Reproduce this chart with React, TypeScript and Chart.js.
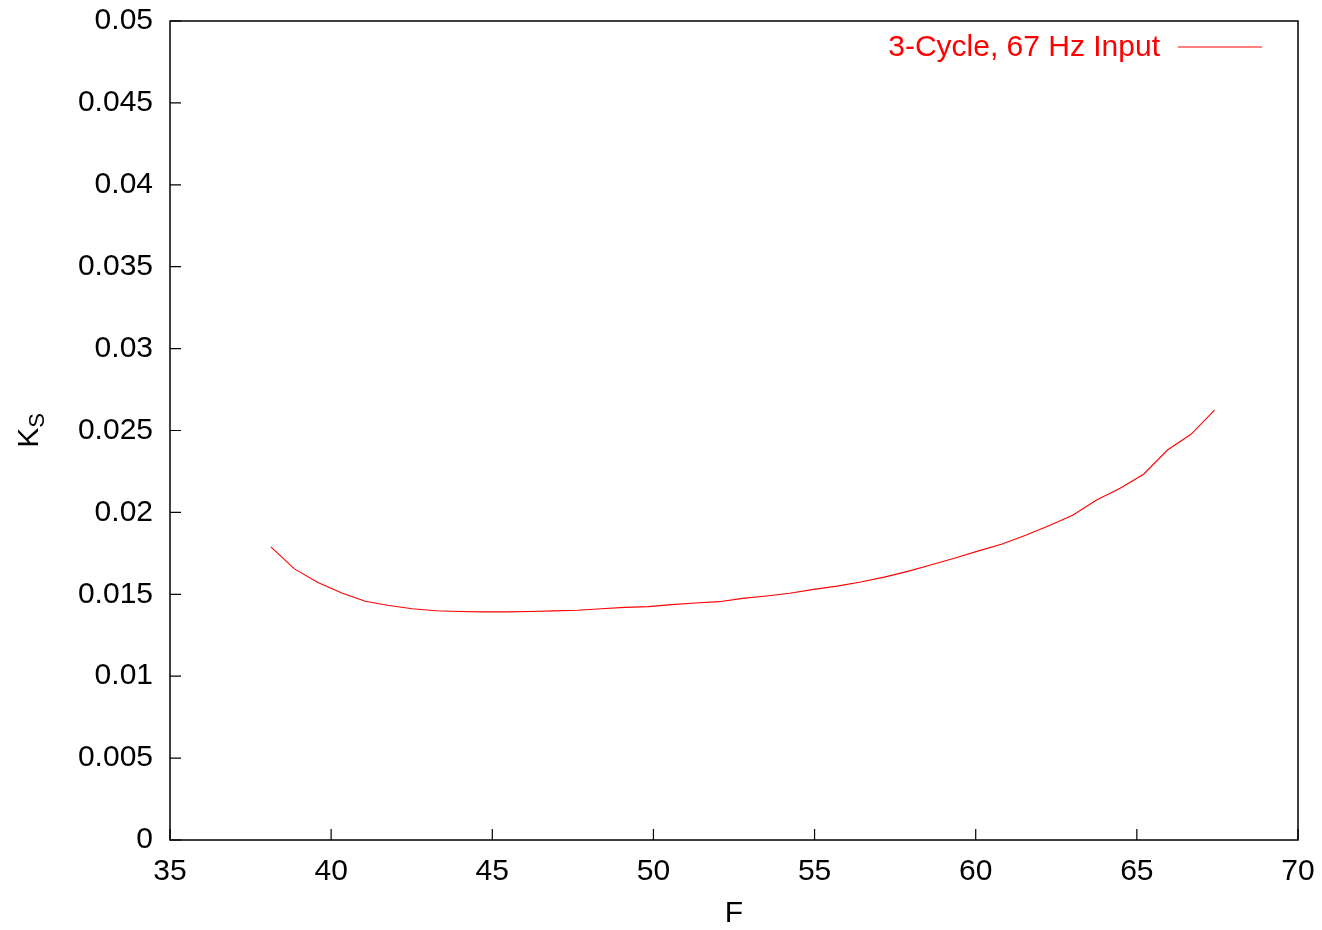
import React, { useEffect, useRef } from "react";
import { Chart, registerables } from "chart.js";

Chart.register(...registerables);

const fValues = [
  38.13, 38.86, 39.59, 40.33, 41.06, 41.79, 42.52, 43.25, 43.99, 44.72,
  45.45, 46.18, 46.91, 47.65, 48.38, 49.11, 49.84, 50.57, 51.31, 52.04,
  52.77, 53.5, 54.23, 54.97, 55.7, 56.43, 57.16, 57.89, 58.63, 59.36,
  60.09, 60.82, 61.55, 62.29, 63.02, 63.75, 64.48, 65.21, 65.95, 66.68,
  67.41,
];
const ksValues = [
  0.01789, 0.01655, 0.01572, 0.01508, 0.01458, 0.01432, 0.01412, 0.014, 0.01395, 0.01393,
  0.01393, 0.01395, 0.01399, 0.01403, 0.01412, 0.0142, 0.01425, 0.01437, 0.01447, 0.01455,
  0.01475, 0.0149, 0.01506, 0.0153, 0.0155, 0.01575, 0.01605, 0.0164, 0.0168, 0.01722,
  0.01765, 0.01807, 0.0186, 0.0192, 0.01984, 0.02076, 0.02147, 0.02233, 0.02381, 0.02477,
  0.02625,
];
const seriesLabel = "3-Cycle, 67 Hz Input";
const xTitle = "F";
const yTitleMain = "K";
const yTitleSub = "S";

const FONT = "'Liberation Sans', Arial, sans-serif";

const framePlugin = {
  id: "frame",
  afterDraw(chart: any) {
    const { ctx, chartArea, scales } = chart;
    const { left, right, top, bottom } = chartArea;
    ctx.save();
    ctx.strokeStyle = "#000";
    ctx.lineWidth = 1.5;
    ctx.strokeRect(left, top, right - left, bottom - top);
    ctx.lineWidth = 1.2;
    ctx.beginPath();
    scales.x.ticks.forEach((t: any) => {
      const px = scales.x.getPixelForValue(t.value);
      ctx.moveTo(px, bottom);
      ctx.lineTo(px, bottom - 11);
    });
    scales.y.ticks.forEach((t: any) => {
      const py = scales.y.getPixelForValue(t.value);
      ctx.moveTo(left, py);
      ctx.lineTo(left + 11, py);
    });
    ctx.stroke();

    // legend
    ctx.fillStyle = "#ff0000";
    ctx.font = `30px ${FONT}`;
    ctx.textAlign = "right";
    ctx.textBaseline = "middle";
    ctx.fillText(seriesLabel, 1160, 48);
    ctx.strokeStyle = "#ff0000";
    ctx.lineWidth = 1.2;
    ctx.beginPath();
    ctx.moveTo(1178, 47);
    ctx.lineTo(1262, 47);
    ctx.stroke();

    // x title
    ctx.fillStyle = "#000";
    ctx.textAlign = "center";
    ctx.fillText(xTitle, (left + right) / 2, 914);

    // y title
    ctx.translate(30, (top + bottom) / 2);
    ctx.rotate(-Math.PI / 2);
    ctx.textAlign = "left";
    ctx.font = `30px ${FONT}`;
    const kw = ctx.measureText(yTitleMain).width;
    ctx.font = `22px ${FONT}`;
    const sw = ctx.measureText(yTitleSub).width;
    const startX = -(kw + sw) / 2;
    ctx.font = `30px ${FONT}`;
    ctx.fillText(yTitleMain, startX, 0);
    ctx.font = `22px ${FONT}`;
    ctx.fillText(yTitleSub, startX + kw, 8);
    ctx.restore();
  },
};

export default function App() {
  const ref = useRef<HTMLCanvasElement>(null);
  useEffect(() => {
    if (!ref.current) return;
    const chart = new Chart(ref.current, {
      type: "line",
      data: {
        datasets: [
          {
            label: seriesLabel,
            data: fValues.map((f, i) => ({ x: f, y: ksValues[i] })),
            borderColor: "#ff0000",
            borderWidth: 1.1,
            pointRadius: 0,
            fill: false,
            tension: 0,
          },
        ],
      },
      options: {
        animation: false,
        responsive: false,
        devicePixelRatio: 1,
        layout: { padding: { left: 0, top: 21, right: 24, bottom: 0 } },
        plugins: { legend: { display: false }, tooltip: { enabled: false } },
        scales: {
          x: {
            type: "linear",
            min: 35,
            max: 70,
            afterFit: (s: any) => {
              s.height = 90;
              s.paddingLeft = 0;
              s.paddingRight = 0;
            },
            ticks: {
              stepSize: 5,
              color: "#000",
              font: { family: FONT, size: 30 },
              padding: 14,
              maxRotation: 0,
            },
            grid: { display: false, drawTicks: false },
            border: { display: false },
          },
          y: {
            type: "linear",
            min: 0,
            max: 0.05,
            afterFit: (s: any) => {
              s.width = 170;
              s.paddingTop = 0;
              s.paddingBottom = 0;
            },
            ticks: {
              stepSize: 0.005,
              color: "#000",
              font: { family: FONT, size: 30 },
              padding: 17,
              callback: (v: any) => String(Number(Number(v).toFixed(3))),
            },
            grid: { display: false, drawTicks: false },
            border: { display: false },
          },
        },
      },
      plugins: [framePlugin],
    });
    return () => chart.destroy();
  }, []);
  return (
    <div style={{ position: "absolute", left: 0, top: 0, width: 1322, height: 930, background: "#fff" }}>
      <canvas ref={ref} width={1322} height={930} style={{ width: 1322, height: 930 }} />
    </div>
  );
}
